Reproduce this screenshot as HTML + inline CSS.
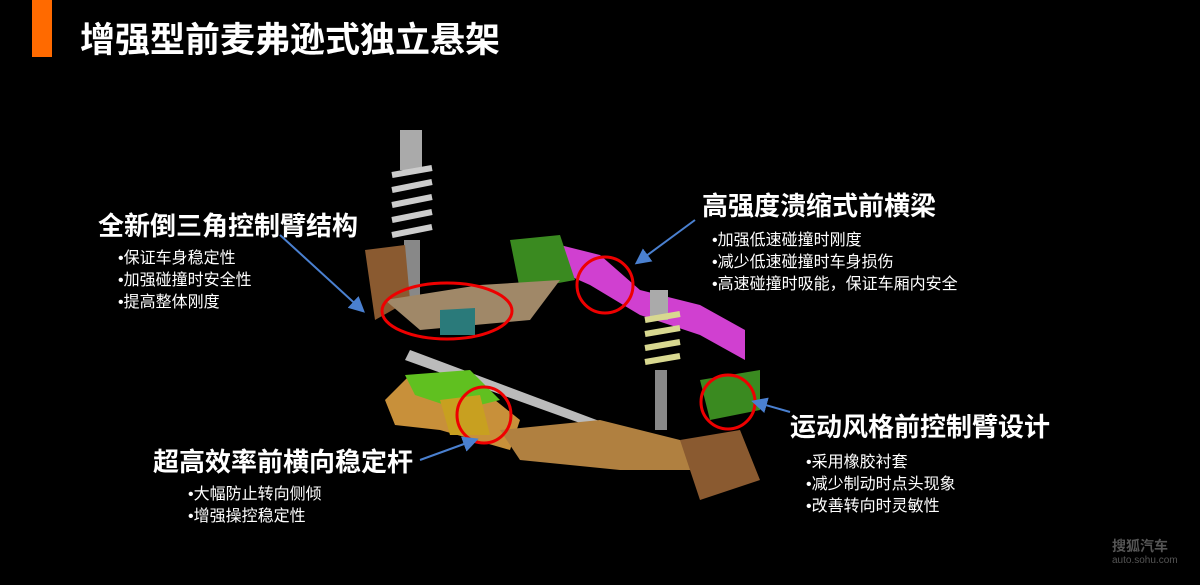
<!DOCTYPE html>
<html><head><meta charset="utf-8"><style>
body{margin:0;background:#000;width:1200px;height:585px;overflow:hidden;position:relative;font-family:"Liberation Sans","Noto Sans CJK SC",sans-serif;color:#fff}
.t{position:absolute;white-space:nowrap}
.h{font-weight:bold;font-size:26px}
.s{font-size:16px;line-height:22px}
</style></head><body>
<div style="position:absolute;left:32px;top:0;width:20px;height:57px;background:#ff6a00"></div>
<div class="t" style="left:80px;top:12px;font-size:35px;font-weight:bold">增强型前麦弗逊式独立悬架</div>
<svg width="1200" height="585" style="position:absolute;left:0;top:0">
<rect x="400" y="130" width="22" height="40" fill="#aaa"/>
<g stroke="#ccc" stroke-width="6" fill="none">
<path d="M392 175 L432 168 M392 190 L432 182 M392 205 L432 197 M392 220 L432 212 M392 235 L432 227"/></g>
<rect x="404" y="240" width="16" height="60" fill="#888"/>
<path d="M365 250 L405 245 L410 300 L375 320 Z" fill="#8a5a30"/>
<path d="M540 240 L600 255 L640 290 L700 305 L745 330 L745 360 L700 335 L640 315 L590 285 L545 265 Z" fill="#d040d0"/>
<path d="M510 240 L560 235 L575 280 L520 290 Z" fill="#3a8a20"/>
<path d="M385 300 L480 285 L560 280 L530 320 L420 330 Z" fill="#a08868"/>
<path d="M440 310 L475 308 L475 335 L440 335 Z" fill="#2a7a7a"/>
<path d="M410 350 L650 440 L655 450 L405 360 Z" fill="#bbb"/>
<path d="M385 400 L410 375 L470 380 L520 420 L510 450 L440 430 L395 425 Z" fill="#c8903a"/>
<path d="M405 375 L470 370 L500 400 L460 410 L415 395 Z" fill="#60c020"/>
<path d="M440 400 L480 395 L490 435 L450 435 Z" fill="#c8a020"/>
<path d="M500 430 L600 420 L680 440 L700 470 L620 470 L520 460 Z" fill="#b08040"/>
<rect x="650" y="290" width="18" height="30" fill="#aaa"/>
<g stroke="#d8d890" stroke-width="6" fill="none">
<path d="M645 320 L680 314 M645 334 L680 328 M645 348 L680 342 M645 362 L680 356"/></g>
<rect x="655" y="370" width="12" height="60" fill="#888"/>
<path d="M700 380 L760 370 L760 410 L710 420 Z" fill="#3a8a20"/>
<path d="M680 440 L740 430 L760 480 L700 500 Z" fill="#8a5a30"/>
<g fill="none" stroke="#e00" stroke-width="3">
<ellipse cx="447" cy="311" rx="65" ry="28"/>
<ellipse cx="605" cy="285" rx="28" ry="28"/>
<ellipse cx="484" cy="415" rx="27" ry="28"/>
<ellipse cx="728" cy="402" rx="27" ry="27"/>
</g>
<defs><marker id="a" markerWidth="8" markerHeight="8" refX="6" refY="4" orient="auto"><path d="M0 0 L8 4 L0 8 Z" fill="#4a80d0"/></marker></defs>
<g stroke="#4a80d0" stroke-width="2" marker-end="url(#a)">
<line x1="280" y1="235" x2="362" y2="310"/>
<line x1="695" y1="220" x2="638" y2="262"/>
<line x1="420" y1="460" x2="475" y2="440"/>
<line x1="790" y1="412" x2="755" y2="402"/>
</g>
</svg>
<div class="t h" style="left:98px;top:206px">全新倒三角控制臂结构</div>
<div class="t s" style="left:118px;top:248px">•保证车身稳定性<br>•加强碰撞时安全性<br>•提高整体刚度</div>
<div class="t h" style="left:702px;top:186px">高强度溃缩式前横梁</div>
<div class="t s" style="left:712px;top:230px">•加强低速碰撞时刚度<br>•减少低速碰撞时车身损伤<br>•高速碰撞时吸能，保证车厢内安全</div>
<div class="t h" style="left:790px;top:407px">运动风格前控制臂设计</div>
<div class="t s" style="left:806px;top:452px">•采用橡胶衬套<br>•减少制动时点头现象<br>•改善转向时灵敏性</div>
<div class="t h" style="left:153px;top:442px">超高效率前横向稳定杆</div>
<div class="t s" style="left:188px;top:484px">•大幅防止转向侧倾<br>•增强操控稳定性</div>
<div class="t" style="left:1112px;top:536px;font-size:14px;font-weight:bold;color:#555">搜狐汽车</div>
<div class="t" style="left:1112px;top:555px;font-size:10px;color:#555">auto.sohu.com</div>
</body></html>
